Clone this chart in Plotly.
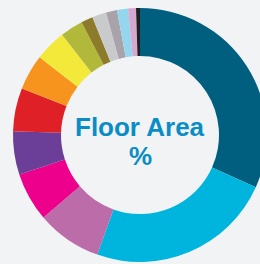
import plotly.graph_objects as go

categories = ["A", "B", "C", "D", "E", "F", "G", "H", "I", "J", "K", "L", "M", "N", "O"]
values = [31.7, 23.7, 8.3, 6.2, 5.5, 5.5, 4.5, 4.0, 2.9, 1.5, 1.8, 1.4, 1.4, 1.0, 0.5]
colors = ["#005f7f", "#00b5dd", "#bb6ca9", "#ec008c", "#6b3f98", "#e02027", "#f7941e",
          "#f2e93b", "#b2b83a", "#8c7b2a", "#c9cacc", "#a8a3aa", "#95d6ef", "#d5aad0", "#231f20"]
title_lines = ["Floor Area", "%"]

W, H = 280, 264
cx, cy, R = 140, 135, 127
BG = "#f2f3f5"

fig = go.Figure(go.Pie(
    labels=categories, values=values, sort=False, direction="clockwise", rotation=0,
    hole=0.622, textinfo="none", hoverinfo="skip", showlegend=False,
    marker=dict(colors=colors, line=dict(width=0)),
    domain=dict(x=[(cx - R) / W, (cx + R) / W], y=[(H - cy - R) / H, (H - cy + R) / H]),
))

fig.add_annotation(x=cx / W, y=(H - 127) / H, xref="paper", yref="paper", text="<b>%s</b>" % title_lines[0],
                   showarrow=False, font=dict(family="Liberation Sans, Arial", size=26, color="#0a8dc5"),
                   xanchor="center", yanchor="middle")
fig.add_annotation(x=cx / W, y=(H - 156) / H, xref="paper", yref="paper", text="<b>%s</b>" % title_lines[1],
                   showarrow=False, font=dict(family="Liberation Sans, Arial", size=26, color="#0a8dc5"),
                   xanchor="center", yanchor="middle")

fig.update_layout(width=W, height=H, margin=dict(l=0, r=0, t=0, b=0),
                  paper_bgcolor=BG, plot_bgcolor=BG)
fig.write_html("out.html", config={"displayModeBar": False}, post_script=(
    "document.body.style.margin='0';document.body.style.overflow='hidden';"
    "document.body.style.background='%s';" % BG))
